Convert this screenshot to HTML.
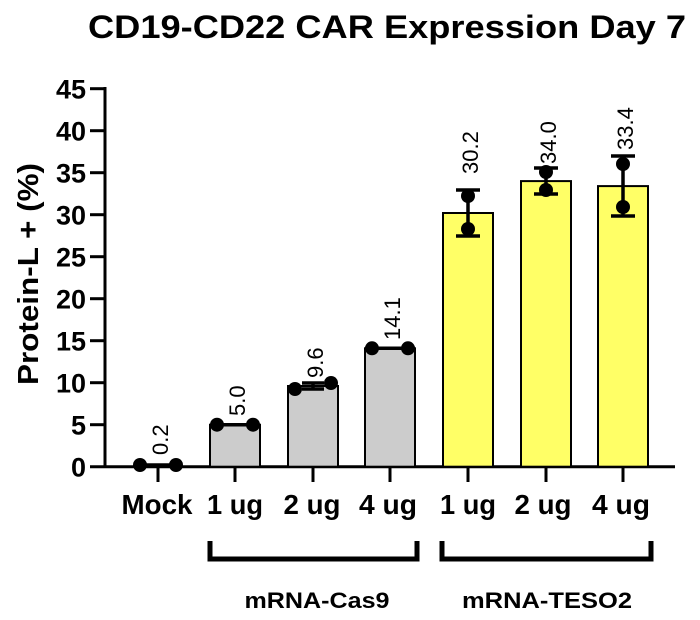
<!DOCTYPE html>
<html><head><style>
html,body{margin:0;padding:0;background:#fff;}
svg{display:block;font-family:"Liberation Sans",Arial,sans-serif;}
</style></head><body>
<svg width="700" height="620" viewBox="0 0 700 620" xmlns="http://www.w3.org/2000/svg">
<text x="387" y="38" font-size="32" font-weight="bold" text-anchor="middle" textLength="598" lengthAdjust="spacingAndGlyphs">CD19-CD22 CAR Expression Day 7</text>
<text transform="translate(38,274) rotate(-90)" font-size="29" font-weight="bold" text-anchor="middle" textLength="222" lengthAdjust="spacingAndGlyphs">Protein-L + (%)</text>
<g font-size="27" font-weight="bold" text-anchor="end">
<text x="86" y="476.5">0</text><text x="86" y="434.5">5</text><text x="86" y="392.5">10</text><text x="86" y="350.5">15</text><text x="86" y="308.5">20</text><text x="86" y="266.5">25</text><text x="86" y="224.5">30</text><text x="86" y="182.5">35</text><text x="86" y="140.5">40</text><text x="86" y="98.5">45</text>
</g>
<g stroke="#000" stroke-width="3">
<line x1="105" y1="87" x2="105" y2="468"/>
<line x1="90" y1="466.7" x2="675" y2="466.7"/>
<line x1="90" y1="88.7" x2="105" y2="88.7"/><line x1="90" y1="130.7" x2="105" y2="130.7"/><line x1="90" y1="172.7" x2="105" y2="172.7"/><line x1="90" y1="214.7" x2="105" y2="214.7"/><line x1="90" y1="256.7" x2="105" y2="256.7"/><line x1="90" y1="298.7" x2="105" y2="298.7"/><line x1="90" y1="340.7" x2="105" y2="340.7"/><line x1="90" y1="382.7" x2="105" y2="382.7"/><line x1="90" y1="424.7" x2="105" y2="424.7"/>
<line x1="158" y1="466" x2="158" y2="482"/><line x1="235" y1="466" x2="235" y2="482"/><line x1="313" y1="466" x2="313" y2="482"/><line x1="390" y1="466" x2="390" y2="482"/><line x1="468" y1="466" x2="468" y2="482"/><line x1="546" y1="466" x2="546" y2="482"/><line x1="623" y1="466" x2="623" y2="482"/>
</g>
<g stroke="#000" stroke-width="2">
<rect x="210" y="424.7" width="50" height="42" fill="#cccccc"/>
<rect x="288" y="386" width="50" height="80.7" fill="#cccccc"/>
<rect x="365" y="348.3" width="50" height="118.4" fill="#cccccc"/>
<rect x="443" y="213" width="50" height="253.7" fill="#ffff66"/>
<rect x="521" y="181.1" width="50" height="285.6" fill="#ffff66"/>
<rect x="598" y="186.1" width="50" height="280.6" fill="#ffff66"/>
</g>
<g stroke="#000" stroke-width="3.5" fill="none">
<line x1="140" y1="465" x2="176" y2="465"/>
<line x1="217" y1="424.7" x2="253" y2="424.7"/>
<path d="M302 383h22M302 389h22M313 383v6"/>
<line x1="365" y1="348.3" x2="415" y2="348.3"/>
<path d="M456 190h24M456 236h24M468 190v46"/>
<path d="M534 168h24M534 194h24M546 168v26"/>
<path d="M611 156h24M611 216h24M623 156v60"/>
</g>
<g fill="#000">
<circle cx="140" cy="465" r="7"/><circle cx="176" cy="465" r="7"/>
<circle cx="217" cy="424.7" r="7"/><circle cx="253" cy="424.7" r="7"/>
<circle cx="295" cy="389" r="7"/><circle cx="331" cy="383" r="7"/>
<circle cx="372" cy="348.3" r="7"/><circle cx="408" cy="348.3" r="7"/>
<circle cx="468" cy="196" r="7"/><circle cx="468" cy="229" r="7"/>
<circle cx="546" cy="172" r="7"/><circle cx="546" cy="190" r="7"/>
<circle cx="623" cy="164" r="7"/><circle cx="623" cy="207" r="7"/>
</g>
<g font-size="22">
<text transform="translate(168,455) rotate(-90)">0.2</text>
<text transform="translate(245,416) rotate(-90)">5.0</text>
<text transform="translate(323,378) rotate(-90)">9.6</text>
<text transform="translate(400,340) rotate(-90)">14.1</text>
<text transform="translate(478,174) rotate(-90)">30.2</text>
<text transform="translate(556,164) rotate(-90)">34.0</text>
<text transform="translate(633,150) rotate(-90)">33.4</text>
</g>
<g font-size="28" font-weight="bold" text-anchor="middle">
<text x="157" y="514" textLength="71" lengthAdjust="spacingAndGlyphs">Mock</text>
<text x="235" y="514" textLength="56" lengthAdjust="spacingAndGlyphs">1 ug</text>
<text x="312" y="514" textLength="57" lengthAdjust="spacingAndGlyphs">2 ug</text>
<text x="388" y="514" textLength="58" lengthAdjust="spacingAndGlyphs">4 ug</text>
<text x="468" y="514" textLength="56" lengthAdjust="spacingAndGlyphs">1 ug</text>
<text x="543" y="514" textLength="57" lengthAdjust="spacingAndGlyphs">2 ug</text>
<text x="621" y="514" textLength="58" lengthAdjust="spacingAndGlyphs">4 ug</text>
</g>
<g stroke="#000" stroke-width="5" fill="none">
<path d="M210 541v18h207v-18"/>
<path d="M442 541v18h209v-18"/>
</g>
<g font-size="22" font-weight="bold" text-anchor="middle">
<text x="317" y="608" textLength="145" lengthAdjust="spacingAndGlyphs">mRNA-Cas9</text>
<text x="547" y="608" textLength="170" lengthAdjust="spacingAndGlyphs">mRNA-TESO2</text>
</g>
</svg>
</body></html>
